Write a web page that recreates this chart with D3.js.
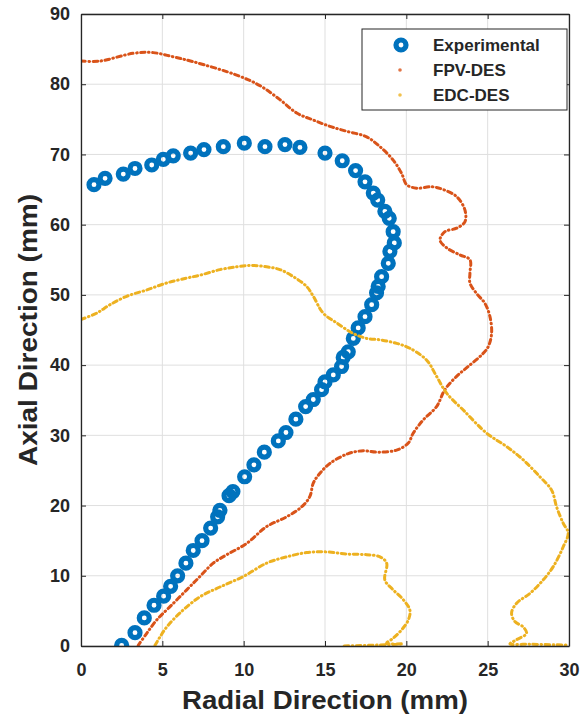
<!DOCTYPE html>
<html>
<head>
<meta charset="utf-8">
<script src="https://cdn.jsdelivr.net/npm/d3@7"></script>
<style>
  body { margin: 0; background: #fff; }
  text { font-family: "Liberation Sans", Arial, Helvetica, sans-serif; font-weight: bold; fill: #262626; }
</style>
</head>
<body>
<svg id="chart" width="582" height="722"></svg>
<script>
// Axis ticks
const radialTicks = [0, 5, 10, 15, 20, 25, 30];
const axialTicks = [0, 10, 20, 30, 40, 50, 60, 70, 80, 90];

// Measured flame boundary (radial, axial) in mm
const expR = [0.80, 1.48, 2.60, 3.32, 4.35, 5.06, 5.67, 6.74, 7.56, 8.75, 10.04, 11.31, 12.54, 13.46,
  15.00, 16.06, 16.88, 17.46, 17.97, 18.24, 18.68, 18.95, 19.19, 19.26, 18.99, 18.89, 18.48, 18.27,
  18.17, 17.87, 17.46, 17.04, 16.74, 16.43, 16.12, 16.02, 15.51, 15.00, 14.79, 14.28, 13.81, 13.21,
  12.60, 12.13, 11.27, 10.63, 10.06, 9.34, 9.10, 8.54, 8.40, 7.97, 7.44, 6.90, 6.45, 5.94, 5.51,
  5.08, 4.49, 3.89, 3.32, 2.50];
const expZ = [65.7, 66.6, 67.2, 68.0, 68.5, 69.3, 69.8, 70.2, 70.7, 71.1, 71.6, 71.1, 71.4, 71.0,
  70.2, 69.1, 67.7, 66.1, 64.5, 63.5, 61.9, 60.9, 59.0, 57.4, 56.2, 54.5, 52.6, 51.2,
  50.3, 48.6, 46.9, 45.3, 43.8, 41.9, 41.1, 39.8, 38.6, 37.6, 36.5, 35.1, 34.1, 32.3,
  30.4, 29.2, 27.6, 25.8, 24.1, 22.0, 21.4, 19.3, 18.4, 16.8, 15.0, 13.6, 11.8, 10.0, 8.5,
  7.1, 5.8, 4.0, 1.9, 0.1];

// FPV-DES boundary
const fpvR = [0.00, 1.17, 3.21, 4.44, 5.67, 6.90, 9.57, 11.00, 12.23, 13.26, 14.28, 15.30, 16.33,
  17.56, 18.38, 19.19, 19.71, 20.02, 20.63, 21.56, 22.27, 23.09, 23.60, 23.60, 23.09, 22.37, 22.07,
  22.48, 23.29, 23.91, 23.91, 23.91, 24.32, 24.83, 25.14, 25.24, 25.03, 24.65, 23.80, 23.09, 22.37,
  21.86, 21.04, 20.42, 20.12, 19.40, 18.27, 17.35, 16.43, 15.30, 14.69, 14.28, 14.07, 13.56, 12.64,
  11.41, 10.18, 8.96, 8.13, 7.31, 6.50, 5.47, 4.65, 4.04, 3.52];
const fpvZ = [83.3, 83.3, 84.4, 84.5, 83.9, 83.2, 81.3, 79.8, 77.8, 75.9, 74.9, 74.0, 73.3,
  72.5, 71.1, 69.2, 67.3, 65.7, 65.2, 65.4, 65.0, 64.0, 62.1, 60.4, 59.5, 59.0, 57.8,
  56.7, 55.7, 55.0, 53.1, 51.7, 50.2, 48.8, 46.9, 44.5, 42.6, 41.5, 39.8, 38.4, 36.5,
  34.1, 32.2, 30.3, 28.9, 27.9, 27.6, 27.8, 27.4, 26.0, 24.6, 23.2, 21.3, 19.8, 18.4,
  17.0, 14.6, 13.0, 11.8, 9.9, 8.0, 5.6, 3.7, 1.8, 0.1];

// EDC-DES boundary: outer branch
const edcOuterR = [0.00, 0.96, 1.78, 2.81, 4.04, 5.27, 6.50, 7.31, 8.54, 9.57, 10.39, 11.41, 12.23,
  13.05, 13.87, 14.28, 14.89, 15.72, 16.74, 17.56, 18.38, 19.40, 20.22, 21.25, 21.86, 22.48, 23.50,
  24.94, 26.16, 27.19, 28.21, 28.93, 29.24, 29.64, 29.95, 29.64, 29.03, 28.41, 27.60, 26.78, 26.47,
  26.67, 27.19, 27.39, 26.78, 26.37, 27.60, 29.64, 30.00];
const edcOuterZ = [46.5, 47.4, 48.6, 49.8, 50.7, 51.7, 52.4, 52.8, 53.6, 54.0, 54.2, 54.0, 53.6,
  52.6, 51.2, 49.8, 47.4, 46.0, 44.5, 43.8, 43.6, 43.1, 42.4, 40.7, 38.4, 36.0, 33.6,
  30.3, 28.4, 26.5, 24.1, 22.2, 19.8, 17.5, 16.1, 14.1, 11.3, 9.4, 7.5, 6.1, 4.7,
  3.5, 2.7, 1.8, 0.9, 0.3, 0.25, 0.15, 0.15];

// EDC-DES boundary: inner branch
const edcInnerR = [4.55, 4.86, 5.27, 6.08, 7.31, 8.54, 9.98, 11.41, 12.64, 13.87, 15.10, 16.33, 17.56,
  18.38, 18.79, 18.68, 19.19, 19.81, 20.22, 20.12, 19.71, 19.19, 18.79, 19.79, 18.38, 16.10];
const edcInnerZ = [0.1, 1.3, 2.7, 4.7, 7.0, 8.4, 9.9, 11.8, 12.7, 13.3, 13.4, 13.1, 13.0,
  12.7, 11.8, 9.4, 8.0, 6.6, 5.1, 3.7, 2.3, 1.1, 0.4, 0.3, 0.15, 0.0];

const seriesNames = ["Experimental", "FPV-DES", "EDC-DES"];
const seriesColors = ["#0072BD", "#D95319", "#EDB120"];

const svg = d3.select("#chart");
const W = 582, H = 722;
const margin = { left: 81, right: 13, top: 14, bottom: 76 };
const x = d3.scaleLinear().domain([0, 30]).range([margin.left, W - margin.right]);
const y = d3.scaleLinear().domain([0, 90]).range([H - margin.bottom, margin.top]);

svg.append("rect").attr("width", W).attr("height", H).attr("fill", "#fff");

// grid
const grid = svg.append("g").attr("stroke", "#dfdfdf").attr("stroke-width", 1);
grid.selectAll(".gx").data(radialTicks).join("line")
  .attr("x1", d => x(d)).attr("x2", d => x(d))
  .attr("y1", y(0)).attr("y2", y(90));
grid.selectAll(".gy").data(axialTicks).join("line")
  .attr("y1", d => y(d)).attr("y2", d => y(d))
  .attr("x1", x(0)).attr("x2", x(30));

// data layers, clipped to the axes
svg.append("clipPath").attr("id", "plotClip").append("rect")
  .attr("x", x(0)).attr("y", y(90)).attr("width", x(30) - x(0)).attr("height", y(0) - y(90));
const plot = svg.append("g").attr("clip-path", "url(#plotClip)");

const line = d3.line().x(d => x(d[0])).y(d => y(d[1])).curve(d3.curveCatmullRom.alpha(0.5));
const zip = (a, b) => a.map((v, i) => [v, b[i]]);

// Experimental markers
plot.append("g").selectAll("circle").data(zip(expR, expZ)).join("circle")
  .attr("cx", d => x(d[0])).attr("cy", d => y(d[1])).attr("r", 5)
  .attr("fill", "none").attr("stroke", seriesColors[0]).attr("stroke-width", 5.2);

// Simulated contours drawn as dotted traces
const dotted = (g, data, color) => g.append("path").datum(data)
  .attr("d", line).attr("fill", "none").attr("stroke", color)
  .attr("stroke-width", 3).attr("stroke-linecap", "round")
  .attr("stroke-dasharray", "4.5 3.5 0.6 3.5");

dotted(plot, zip(fpvR, fpvZ), seriesColors[1]);
dotted(plot, zip(edcOuterR, edcOuterZ), seriesColors[2]);
dotted(plot, zip(edcInnerR, edcInnerZ), seriesColors[2]);

// axes (inward ticks on all four sides)
const axColor = "#262626";
const styleAxis = g => {
  g.selectAll(".domain").attr("stroke", axColor).attr("stroke-width", 1.3);
  g.selectAll(".tick line").attr("stroke", axColor).attr("stroke-width", 1);
  g.selectAll(".tick text").attr("font-size", 18).attr("fill", axColor)
    .attr("font-family", '"Liberation Sans", Arial, sans-serif').attr("font-weight", "bold");
};
svg.append("g").attr("transform", `translate(0,${y(0)})`)
  .call(d3.axisBottom(x).tickValues(radialTicks).tickSizeInner(-5).tickSizeOuter(0).tickPadding(17))
  .call(styleAxis);
svg.append("g").attr("transform", `translate(0,${y(90)})`)
  .call(d3.axisTop(x).tickValues(radialTicks).tickSizeInner(-5).tickSizeOuter(0).tickFormat(""))
  .call(styleAxis);
svg.append("g").attr("transform", `translate(${x(0)},0)`)
  .call(d3.axisLeft(y).tickValues(axialTicks).tickSizeInner(-5).tickSizeOuter(0).tickPadding(11))
  .call(styleAxis);
svg.append("g").attr("transform", `translate(${x(30)},0)`)
  .call(d3.axisRight(y).tickValues(axialTicks).tickSizeInner(-5).tickSizeOuter(0).tickFormat(""))
  .call(styleAxis);

// axis titles
svg.append("text").attr("x", (x(0) + x(30)) / 2).attr("y", 709)
  .attr("text-anchor", "middle").attr("font-size", 25.5)
  .attr("textLength", 286).attr("lengthAdjust", "spacingAndGlyphs")
  .text("Radial Direction (mm)");
svg.append("text").attr("transform", `translate(37,${(y(0) + y(90)) / 2}) rotate(-90)`)
  .attr("text-anchor", "middle").attr("font-size", 25.5)
  .attr("textLength", 272).attr("lengthAdjust", "spacingAndGlyphs")
  .text("Axial Direction (mm)");

// legend
const lg = svg.append("g").attr("transform", "translate(362,29)");
lg.append("rect").attr("width", 205).attr("height", 81)
  .attr("fill", "#fff").attr("stroke", axColor).attr("stroke-width", 1);
const rows = lg.selectAll(".row").data(seriesNames).join("g")
  .attr("transform", (d, i) => `translate(0,${16 + i * 25})`);
rows.filter((d, i) => i === 0).append("circle")
  .attr("cx", 39).attr("cy", 0).attr("r", 5)
  .attr("fill", "none").attr("stroke", seriesColors[0]).attr("stroke-width", 5.2);
rows.filter((d, i) => i > 0).append("circle")
  .attr("cx", 38).attr("cy", 0).attr("r", 1.8)
  .attr("fill", (d, i) => seriesColors[i + 1]).attr("opacity", 0.8);
rows.append("text").attr("x", 71).attr("y", 6).attr("font-size", 17).text(d => d);
</script>
</body>
</html>
